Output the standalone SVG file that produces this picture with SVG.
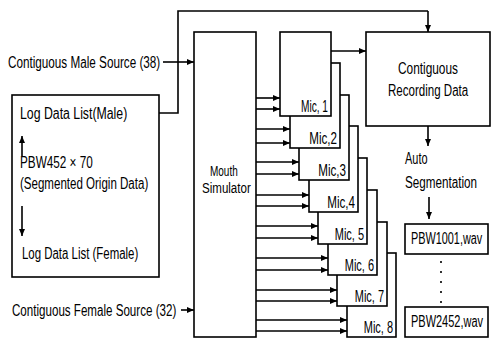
<svg xmlns="http://www.w3.org/2000/svg" width="492" height="343" viewBox="0 0 492 343">
<style>
text{font-family:"Liberation Sans",Arial,sans-serif;font-size:16px;fill:#000}
.s{font-size:14px}
.b{fill:#fff;stroke:#000;stroke-width:1.6}
.c{fill:none;stroke:#000;stroke-width:1.6}
.a{marker-end:url(#ah)}
.m{text-anchor:end}
</style>
<defs>
<marker id="ah" markerUnits="userSpaceOnUse" markerWidth="7" markerHeight="6" refX="7" refY="3" orient="auto">
<path d="M0,0 L7,3 L0,6 Z" fill="#000"/>
</marker>
</defs>
<rect width="492" height="343" fill="#fff"/>
<g id="connectors">
<polyline class="c" points="130,113 178,113 178,11 428,11"/>
<line class="c a" x1="428" y1="11" x2="428" y2="32"/>
<line class="c a" x1="163" y1="62" x2="194" y2="62"/>
<line class="c a" x1="181" y1="310" x2="194" y2="310"/>
<line class="c a" x1="331" y1="51" x2="366" y2="51"/>
<line class="c a" x1="428" y1="126" x2="428" y2="146"/>
<line class="c a" x1="429" y1="197" x2="429" y2="219"/>
<line class="c" x1="441" y1="261" x2="441" y2="303" stroke-dasharray="2 8"/>
<line class="c a" x1="256" y1="98" x2="280" y2="98"/>
<line class="c a" x1="256" y1="109" x2="280" y2="109"/>
<line class="c a" x1="256" y1="129" x2="290" y2="129"/>
<line class="c a" x1="256" y1="143" x2="290" y2="143"/>
<line class="c a" x1="256" y1="162" x2="299" y2="162"/>
<line class="c a" x1="256" y1="174" x2="299" y2="174"/>
<line class="c a" x1="256" y1="195" x2="309" y2="195"/>
<line class="c a" x1="256" y1="206" x2="309" y2="206"/>
<line class="c a" x1="256" y1="226" x2="318" y2="226"/>
<line class="c a" x1="256" y1="238" x2="318" y2="238"/>
<line class="c a" x1="256" y1="258" x2="328" y2="258"/>
<line class="c a" x1="256" y1="270" x2="328" y2="270"/>
<line class="c a" x1="256" y1="290" x2="337" y2="290"/>
<line class="c a" x1="256" y1="301" x2="337" y2="301"/>
<line class="c a" x1="256" y1="320" x2="347" y2="320"/>
<line class="c a" x1="256" y1="331" x2="347" y2="331"/>
</g>
<g id="male-source"><text transform="translate(8,68) scale(0.75,1)" textLength="203" lengthAdjust="spacingAndGlyphs">Contiguous Male Source (38)</text></g>
<g id="female-source"><text transform="translate(12,316) scale(0.75,1)" textLength="219" lengthAdjust="spacingAndGlyphs">Contiguous Female Source (32)</text></g>
<g id="log-data">
<rect class="b" x="12" y="95" width="147" height="182"/>
<text transform="translate(20,119) scale(0.75,1)" textLength="143" lengthAdjust="spacingAndGlyphs">Log Data List(Male)</text>
<line class="c a" x1="22" y1="156" x2="22" y2="136"/>
<text transform="translate(20,168) scale(0.75,1)" textLength="97" lengthAdjust="spacingAndGlyphs">PBW452 × 70</text>
<text transform="translate(20,189) scale(0.75,1)" textLength="171" lengthAdjust="spacingAndGlyphs">(Segmented Origin Data)</text>
<line class="c a" x1="22" y1="206" x2="22" y2="236"/>
<text transform="translate(22,259) scale(0.75,1)" textLength="155" lengthAdjust="spacingAndGlyphs">Log Data List (Female)</text>
</g>
<g id="mouth-simulator">
<rect class="b" x="194" y="32" width="62" height="305"/>
<text class="s" transform="translate(210,176) scale(0.75,1)" textLength="37" lengthAdjust="spacingAndGlyphs">Mouth</text>
<text class="s" transform="translate(202,193) scale(0.75,1)" textLength="65" lengthAdjust="spacingAndGlyphs">Simulator</text>
</g>
<g id="mic8"><rect class="b" x="347" y="253" width="49" height="84"/><text class="m" transform="translate(393,333) scale(0.75,1)" textLength="39" lengthAdjust="spacingAndGlyphs">Mic, 8</text></g>
<g id="mic7"><rect class="b" x="337" y="222" width="50" height="84"/><text class="m" transform="translate(384,302) scale(0.75,1)" textLength="39" lengthAdjust="spacingAndGlyphs">Mic, 7</text></g>
<g id="mic6"><rect class="b" x="328" y="190" width="49" height="85"/><text class="m" transform="translate(374,271) scale(0.75,1)" textLength="39" lengthAdjust="spacingAndGlyphs">Mic, 6</text></g>
<g id="mic5"><rect class="b" x="318" y="158" width="49" height="86"/><text class="m" transform="translate(364,240) scale(0.75,1)" textLength="39" lengthAdjust="spacingAndGlyphs">Mic, 5</text></g>
<g id="mic4"><rect class="b" x="309" y="126" width="49" height="86"/><text class="m" transform="translate(355,208) scale(0.75,1)" textLength="37" lengthAdjust="spacingAndGlyphs">Mic,4</text></g>
<g id="mic3"><rect class="b" x="299" y="95" width="50" height="85"/><text class="m" transform="translate(346,176) scale(0.75,1)" textLength="37" lengthAdjust="spacingAndGlyphs">Mic,3</text></g>
<g id="mic2"><rect class="b" x="290" y="63" width="50" height="85"/><text class="m" transform="translate(337,144) scale(0.75,1)" textLength="37" lengthAdjust="spacingAndGlyphs">Mic,2</text></g>
<g id="mic1"><rect class="b" x="280" y="32" width="51" height="84"/><text class="m" transform="translate(328,112) scale(0.75,1)" textLength="36" lengthAdjust="spacingAndGlyphs">Mic, 1</text></g>
<g id="recording">
<rect class="b" x="366" y="32" width="124" height="94"/>
<text transform="translate(398,74) scale(0.75,1)" textLength="80" lengthAdjust="spacingAndGlyphs">Contiguous</text>
<text transform="translate(388,96) scale(0.75,1)" textLength="107" lengthAdjust="spacingAndGlyphs">Recording Data</text>
</g>
<g id="auto-seg">
<text transform="translate(405,164) scale(0.75,1)" textLength="30" lengthAdjust="spacingAndGlyphs">Auto</text>
<text transform="translate(405,188) scale(0.75,1)" textLength="96" lengthAdjust="spacingAndGlyphs">Segmentation</text>
</g>
<g id="pbw1001"><rect class="b" x="405" y="224" width="83" height="30"/><text transform="translate(411,244) scale(0.75,1)" textLength="95" lengthAdjust="spacingAndGlyphs">PBW1001,wav</text></g>
<g id="pbw2452"><rect class="b" x="405" y="307" width="83" height="30"/><text transform="translate(411,327) scale(0.75,1)" textLength="96" lengthAdjust="spacingAndGlyphs">PBW2452,wav</text></g>
</svg>
